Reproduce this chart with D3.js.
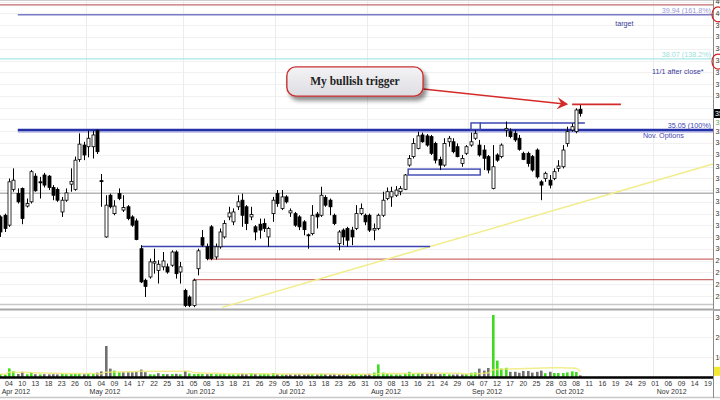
<!DOCTYPE html>
<html><head><meta charset="utf-8">
<script src="https://cdn.jsdelivr.net/npm/d3@7/dist/d3.min.js"></script>
<style>html,body{margin:0;padding:0;background:#fff;overflow:hidden}svg{display:block}</style>
</head><body><svg id="c" width="720" height="400"></svg>
<script>
// ---- data: sessions from Apr 2 2012 (index 0) ----
const openP = [31.36,31.43,31.01,32.53,32.35,32.57,31.82,32.00,33.09,32.85,33.14,33.09,32.61,32.53,31.57,32.07,32.75,32.53,33.80,34.41,34.34,34.34,35.02,32.90,30.51,32.28,31.50,32.35,31.65,31.79,31.36,31.19,30.01,28.67,28.81,29.40,29.09,29.24,29.24,29.31,29.87,29.02,28.24,27.96,27.60,29.16,30.48,30.09,30.94,29.66,30.09,30.51,31.36,31.15,31.79,32.07,31.79,31.36,30.94,31.05,31.08,30.51,31.50,32.35,31.72,32.21,31.53,31.50,31.36,31.15,30.60,30.65,31.48,31.43,32.19,32.07,31.43,30.23,30.80,30.87,30.80,30.87,31.50,31.43,31.43,30.80,30.87,31.43,32.14,32.21,32.28,32.43,32.53,33.56,33.92,34.27,34.84,34.80,34.77,34.48,33.80,33.56,34.55,34.55,34.34,33.63,34.06,34.41,34.70,34.41,34.20,33.92,32.57,33.99,33.92,35.05,34.98,34.91,34.70,34.06,34.06,33.92,34.20,32.85,32.99,32.92,32.99,33.42,33.49,34.48,35.05,34.98,35.93];
const highP = [31.43,31.50,32.99,33.42,32.57,32.61,32.14,33.35,33.21,33.06,33.23,33.14,32.71,32.61,32.21,32.57,33.42,33.92,34.91,34.55,35.02,35.02,35.08,33.18,32.28,32.35,32.07,32.57,32.28,31.86,31.43,31.29,30.16,28.74,29.59,30.01,29.52,29.87,29.38,29.94,29.94,29.45,28.31,28.03,28.74,30.01,30.80,30.23,31.01,30.23,30.87,31.22,31.79,31.72,32.28,32.35,31.86,31.79,31.01,31.29,31.29,30.94,32.21,32.50,32.50,32.28,31.72,31.57,31.43,31.22,30.65,31.86,31.57,32.64,32.28,32.14,31.50,30.80,30.87,30.94,30.94,31.86,31.93,31.50,31.50,31.08,31.50,32.43,32.61,32.64,32.67,32.67,33.18,33.99,34.70,34.98,34.94,34.88,34.84,34.55,33.92,34.70,34.80,34.70,34.48,33.99,34.41,34.94,35.05,34.63,34.41,33.99,34.41,34.06,34.48,35.41,35.12,35.05,34.84,34.13,34.13,33.99,34.27,32.92,33.28,33.14,33.42,33.77,34.41,35.19,35.33,35.97,36.11];
const lowP = [30.51,30.72,30.94,32.43,31.93,31.05,31.76,31.93,32.43,32.14,32.61,32.50,32.07,32.00,31.36,32.00,32.43,32.47,33.70,33.77,33.89,33.84,34.03,31.79,30.48,31.72,31.43,32.07,31.57,31.22,30.94,30.37,28.55,27.96,28.74,28.95,28.53,29.09,28.95,29.24,28.74,28.53,27.53,27.53,27.53,28.88,30.09,29.52,29.52,29.55,30.01,30.44,31.22,31.01,31.65,30.94,30.80,31.22,30.37,30.44,30.72,30.09,31.15,31.79,31.65,31.93,31.36,30.94,30.80,30.58,30.01,30.58,30.87,31.36,31.79,31.43,31.01,29.94,30.16,30.09,30.16,30.80,31.43,31.01,30.72,30.37,30.80,31.36,32.07,31.79,32.21,32.28,32.50,33.49,33.84,34.23,34.51,34.34,33.99,33.63,33.35,33.49,34.34,34.06,33.89,33.49,33.99,34.34,34.63,33.92,33.35,33.21,32.53,33.70,33.85,34.77,34.70,34.55,34.17,33.77,33.49,33.28,32.99,32.07,32.85,32.57,32.92,33.28,33.42,34.34,34.98,34.91,35.62];
const closeP = [30.72,30.87,32.85,32.92,32.00,31.29,31.93,33.28,32.47,32.81,32.71,32.61,32.28,32.07,32.07,32.38,32.87,33.77,34.45,33.99,34.70,34.84,34.13,32.86,31.86,31.79,31.82,32.14,31.76,31.29,31.01,30.40,28.60,28.41,29.45,29.46,29.35,29.49,29.02,29.87,28.95,29.24,27.60,27.60,28.67,29.92,30.16,29.59,29.59,30.09,30.72,31.08,31.53,31.57,32.00,31.43,31.08,31.46,30.72,30.80,30.87,30.87,32.07,31.93,32.21,32.00,31.62,31.01,30.94,30.82,30.57,31.43,31.36,32.28,31.86,31.79,31.08,30.72,30.51,30.37,30.51,31.50,31.72,31.15,30.80,30.87,31.43,32.07,32.43,32.43,32.50,32.57,33.14,33.84,34.48,34.80,34.55,34.41,34.06,33.77,33.56,34.48,34.70,34.13,33.92,33.84,34.34,34.55,34.91,33.99,33.85,33.35,33.49,33.77,34.41,35.12,34.77,34.63,34.23,33.80,33.63,33.35,33.06,32.71,33.21,32.71,33.28,33.52,34.20,34.98,35.19,35.90,35.75];
const volume = [1.5,1.2,4.3,2.9,1.5,2.6,1.4,2.2,1.4,1.3,1.4,1.3,1.4,1.3,1.5,1.4,1.5,1.6,1.5,1.4,1.6,1.5,2.2,2.8,15.5,4.2,3.2,2.4,2.4,2.4,2.4,2.6,3.7,2.4,1.4,1.3,1.9,1.5,1.4,1.5,1.6,1.4,3.0,1.8,1.5,1.6,1.5,1.4,1.5,1.4,1.4,1.5,1.4,1.3,1.4,1.6,1.5,2.0,1.5,1.4,1.5,1.4,2.0,1.4,1.3,1.2,1.3,1.3,1.4,1.3,1.4,1.5,1.3,1.6,1.4,1.3,1.4,1.5,1.3,1.3,1.4,1.5,1.3,1.4,1.6,2.2,6.3,2.2,1.5,1.3,1.3,1.2,1.6,2.6,1.6,2.0,1.7,1.6,1.6,1.4,1.4,1.6,1.3,1.2,1.3,1.3,1.5,2.1,2.3,4.2,3.2,4.5,31,8.2,4.2,4.6,2.6,2.6,2.1,3.0,3.0,2.2,2.6,3.2,1.9,2.6,2.0,2.0,2.0,2.3,2.8,2.5,0.8];

// axis labels: a day label every 3rd session, first one on session 2 (Apr 04)
const dayLabels = ["04","10","13","18","23","26","01","04","09","14","17","22","25","31","05","08","13","18","21","26","29","05","10","13","18","23","26","31","03","08","13","16","21","24","29","04","07","12","17","20","25","28","03","08","11","16","19","24","29","01","06","09","14","19"];
const monthLabels = ["Apr 2012","May 2012","Jun 2012","Jul 2012","Aug 2012","Sep 2012","Oct 2012","Nov 2012"];
const monthStartSession = [0,20,42,63,84,107,126,149];
const priceTicks = [28,28.5,29,29.5,30,30.5,31,31.5,32,32.5,33,33.5,34,34.5,35,35.5,36,36.5,37,37.5,38,38.5,39,39.5,40,40.5];
const volTicks = [10,20,30];

// annotation levels (price values)
const fibLevels = [39.94, 38.07, 35.05];
const fibTexts = ["39.94 (161.8%)","38.07 (138.2%)","35.05 (100%)"];
const redLevels = [29.57, 28.70];
const redStart = [47.0, 43.9];
const topRedLevel = 40.36;
const grayLevels = [32.37, 27.64];
const triggerLevel = 36.14, triggerFrom = 130.1, triggerTo = 141.2;
const supportLevel = 30.10, supportFrom = 32.1, supportTo = 97.8;
const trend = [[50.5, 27.52],[162.15, 33.61]];
const upperBox = {x0:107.1, x1:109.2, x2:133.0, p0:35.05, p1:35.35};
const lowerBox = {x0:92.8, x1:109.2, p0:33.14, p1:33.39};

const W = 720, H = 400, plotR = 713;
const svg = d3.select('#c');
const x = d3.scaleLinear().domain([-0.0455, 162.15]).range([0, plotR]);
const y = d3.scaleLinear().domain([27.45, 40.57]).range([309, 0]);
const yv = d3.scaleLinear().domain([0, 33]).range([377, 311]);
const FONT = '"Liberation Sans", Arial, sans-serif';

const n = closeP.length;
const idx = d3.range(n);

// price grid
svg.append('g').selectAll('line').data(priceTicks).join('line')
  .attr('x1',0).attr('x2',plotR).attr('y1',d=>Math.round(y(d))+0.5).attr('y2',d=>Math.round(y(d))+0.5)
  .attr('stroke','#f1f1f1');
// volume grid
svg.append('g').selectAll('line').data(volTicks).join('line')
  .attr('x1',0).attr('x2',plotR).attr('y1',d=>Math.round(yv(d))+0.5).attr('y2',d=>Math.round(yv(d))+0.5)
  .attr('stroke','#f1f1f1');
// month verticals
svg.append('g').selectAll('line').data(monthStartSession.slice(1)).join('line')
  .attr('x1',d=>Math.round(x(d-0.5))+0.5).attr('x2',d=>Math.round(x(d-0.5))+0.5)
  .attr('y1',0).attr('y2',378).attr('stroke','#ececec');

// frame lines
svg.append('line').attr('x1',0).attr('x2',W).attr('y1',0.5).attr('y2',0.5).attr('stroke','#cfcfcf');
svg.append('line').attr('x1',0).attr('x2',plotR).attr('y1',y(topRedLevel)).attr('y2',y(topRedLevel)).attr('stroke','#c46a6a').attr('stroke-width',1.2);
grayLevels.forEach((g,i)=>{
  svg.append('line').attr('x1',0).attr('x2',plotR).attr('y1',y(g)).attr('y2',y(g)).attr('stroke', i===0?'#b5b5b5':'#c8c8c8').attr('stroke-width',1.5);
});
svg.append('line').attr('x1',0).attr('x2',plotR).attr('y1',309.5).attr('y2',309.5).attr('stroke','#a8a8a8').attr('stroke-width',2);
svg.append('line').attr('x1',0).attr('x2',W).attr('y1',397.5).attr('y2',397.5).attr('stroke','#c8c8c8').attr('stroke-width',1.5);

// red lower lines
redLevels.forEach((r,i)=>{
  svg.append('line').attr('x1',x(redStart[i])).attr('x2',plotR).attr('y1',y(r)).attr('y2',y(r)).attr('stroke','#cc6b6b').attr('stroke-width',1.2);
});
// fib lines
svg.append('line').attr('x1',x(4)).attr('x2',plotR).attr('y1',y(fibLevels[0])).attr('y2',y(fibLevels[0])).attr('stroke','#7b7bc8').attr('stroke-width',1.5);
svg.append('line').attr('x1',0).attr('x2',plotR).attr('y1',y(fibLevels[1])).attr('y2',y(fibLevels[1])).attr('stroke','#a8e8e8').attr('stroke-width',1.2);
svg.append('line').attr('x1',x(4)).attr('x2',plotR).attr('y1',y(fibLevels[2])+2).attr('y2',y(fibLevels[2])+2).attr('stroke','#c6c8ee').attr('stroke-width',2);
svg.append('line').attr('x1',x(4)).attr('x2',plotR).attr('y1',y(fibLevels[2])).attr('y2',y(fibLevels[2])).attr('stroke','#2430a6').attr('stroke-width',2.6);

// trend line (yellow)
svg.append('line').attr('x1',x(trend[0][0])).attr('y1',y(trend[0][1])).attr('x2',x(trend[1][0])).attr('y2',y(trend[1][1]))
  .attr('stroke','#f2ec8a').attr('stroke-width',1.5);

// support and boxes (blue)
svg.append('line').attr('x1',x(supportFrom)).attr('x2',x(supportTo)).attr('y1',y(supportLevel)).attr('y2',y(supportLevel)).attr('stroke','#3a44b0').attr('stroke-width',1.5);
svg.append('rect').attr('x',x(lowerBox.x0)).attr('y',y(lowerBox.p1)).attr('width',x(lowerBox.x1)-x(lowerBox.x0)).attr('height',y(lowerBox.p0)-y(lowerBox.p1))
  .attr('fill','none').attr('stroke','#3a44b0').attr('stroke-width',1.4);
svg.append('rect').attr('x',x(upperBox.x0)).attr('y',y(upperBox.p1)).attr('width',x(upperBox.x1)-x(upperBox.x0)).attr('height',y(upperBox.p0)-y(upperBox.p1))
  .attr('fill','none').attr('stroke','#3a44b0').attr('stroke-width',1.4);
svg.append('line').attr('x1',x(upperBox.x1)).attr('x2',x(upperBox.x2)).attr('y1',y(upperBox.p1)).attr('y2',y(upperBox.p1))
  .attr('stroke','#3a44b0').attr('stroke-width',1.4);

// candles
const bw = 3;
const cg = svg.append('g');
cg.selectAll('line.w').data(idx).join('line').attr('class','w')
  .attr('x1',i=>Math.round(x(i))+0.5).attr('x2',i=>Math.round(x(i))+0.5)
  .attr('y1',i=>y(highP[i])).attr('y2',i=>y(lowP[i])).attr('stroke','#000').attr('stroke-width',1);
cg.selectAll('rect.b').data(idx).join('rect').attr('class','b')
  .attr('x',i=>Math.round(x(i))-1).attr('width',bw)
  .attr('y',i=>y(Math.max(openP[i],closeP[i])))
  .attr('height',i=>Math.max(1,Math.abs(y(openP[i])-y(closeP[i]))))
  .attr('fill',i=>closeP[i]>=openP[i]?'#fff':'#000')
  .attr('stroke','#000').attr('stroke-width',0.8);

// trigger line
svg.append('line').attr('x1',x(triggerFrom)).attr('x2',x(triggerTo)).attr('y1',y(triggerLevel)).attr('y2',y(triggerLevel)).attr('stroke','#d42a2a').attr('stroke-width',1.8);

// volume bars
svg.append('g').selectAll('rect').data(idx).join('rect')
  .attr('x',i=>Math.round(x(i))-1).attr('width',2.6)
  .attr('y',i=>yv(volume[i])).attr('height',i=>yv(0)-yv(volume[i]))
  .attr('fill',i=>(i===0||closeP[i]>=closeP[i-1])?'#3ddc1f':'#707070');
// volume average
const vma = idx.map(i=>d3.mean(volume.slice(Math.max(0,i-19),i+1)));
svg.append('path').datum(idx).attr('fill','none').attr('stroke','#eeea70').attr('stroke-width',1.5).attr('opacity',0.8)
  .attr('d',d3.line().curve(d3.curveMonotoneX).x(i=>x(i)).y(i=>yv(vma[i])));
// baseline
svg.append('line').attr('x1',0).attr('x2',plotR+1).attr('y1',377.5).attr('y2',377.5).attr('stroke','#000').attr('stroke-width',2.6);

// right axis
const last = closeP[n-1];
const tagYs = [y(last), y(fibLevels[2])-7.5];
svg.append('line').attr('x1',plotR+0.5).attr('x2',plotR+0.5).attr('y1',0).attr('y2',398).attr('stroke','#8a8a8a');
svg.append('line').attr('x1',plotR).attr('x2',W).attr('y1',310).attr('y2',310).attr('stroke','#a8a8a8').attr('stroke-width',2);
svg.append('g').selectAll('text').data(priceTicks.filter(d=>tagYs.every(t=>Math.abs(y(d)-t)>6))).join('text')
  .attr('x',plotR+2.5).attr('y',d=>y(d)+2.5).text(d=>d.toFixed(1))
  .attr('font-family',FONT).attr('font-size',7).attr('fill','#333');
svg.append('g').selectAll('text').data(volTicks).join('text')
  .attr('x',plotR+2.5).attr('y',d=>yv(d)+2.5).text(d=>d+'M')
  .attr('font-family',FONT).attr('font-size',7).attr('fill','#333');
// last price tag
svg.append('rect').attr('x',plotR+1).attr('y',y(last)-4.5).attr('width',8).attr('height',9).attr('fill','#000');
svg.append('text').attr('x',plotR+2).attr('y',y(last)+2.5).text(last.toFixed(1)).attr('font-family',FONT).attr('font-size',7).attr('fill','#fff');
svg.append('text').attr('x',plotR+2.5).attr('y',tagYs[1]+2.5).text('35.1').attr('font-family',FONT).attr('font-size',7).attr('fill','#62a862');
// volume MA tag
svg.append('rect').attr('x',plotR+1).attr('y',yv(vma[n-1])-4.5).attr('width',8).attr('height',9).attr('fill','#f0ea30');
// red circles on axis
[40, 38].forEach(v=>{
  svg.append('ellipse').attr('cx',plotR+5).attr('cy',y(v)+1).attr('rx',6).attr('ry',7.5).attr('fill','none').attr('stroke','#d02020').attr('stroke-width',1.2);
});

// x axis labels
svg.append('g').selectAll('text').data(dayLabels).join('text')
  .attr('x',(d,k)=>x(2+3*k)).attr('y',386).attr('text-anchor','middle').text(d=>d)
  .attr('font-family',FONT).attr('font-size',7).attr('fill','#333');
svg.append('g').selectAll('text').data(monthLabels).join('text')
  .attr('x',(d,k)=>x(monthStartSession[k])+1.5).attr('y',394).text(d=>d)
  .attr('font-family',FONT).attr('font-size',7).attr('fill','#333');

// fib texts
const fibColors = ['#9a9ad6','#9adede','#3a44b0'];
fibLevels.forEach((f,i)=>{
  svg.append('text').attr('x',711).attr('y',y(f)-2).attr('text-anchor','end').text(fibTexts[i])
    .attr('font-family',FONT).attr('font-size',7.2).attr('fill',fibColors[i]);
});
// notes
const notes = [
  {t:'target', i:139.9, p:39.47, c:'#3a3a9a'},
  {t:'11/1 after close*', i:148.3, p:37.43, c:'#3a3a9a'},
  {t:'Nov. Options', i:146.2, p:34.71, c:'#4a4ab4'}
];
notes.forEach(o=>{
  svg.append('text').attr('x',x(o.i)).attr('y',y(o.p)).text(o.t).attr('font-family',FONT).attr('font-size',7.2)
    .attr('fill',o.c);
});

// callout
const cb = {i0:65.2, i1:96.2, pTop:37.73, pBot:36.49};
const defs = svg.append('defs');
const f = defs.append('filter').attr('id','sh').attr('x','-20%').attr('y','-30%').attr('width','140%').attr('height','170%');
f.append('feGaussianBlur').attr('in','SourceAlpha').attr('stdDeviation',2);
f.append('feOffset').attr('dx',3).attr('dy',4).attr('result','o');
f.append('feComponentTransfer').append('feFuncA').attr('type','linear').attr('slope',0.45);
const fm = f.append('feMerge'); fm.append('feMergeNode'); fm.append('feMergeNode').attr('in','SourceGraphic');
const gr = defs.append('linearGradient').attr('id','gb').attr('x1',0).attr('y1',0).attr('x2',0).attr('y2',1);
gr.append('stop').attr('offset',0).attr('stop-color','#f4f4f6');
gr.append('stop').attr('offset',1).attr('stop-color','#dcdce2');
// arrow line
const ax0 = x(cb.i1), ay0 = y(36.79), ax1 = x(129.2), ay1 = y(triggerLevel);
svg.append('line').attr('x1',ax0).attr('y1',ay0).attr('x2',ax1-6).attr('y2',ay1-0.6).attr('stroke','#d42a2a').attr('stroke-width',1.5);
const ang = Math.atan2(ay1-ay0, ax1-ax0);
const ah = [[0,0],[-11,-6],[-7,0],[-11,6]].map(([px,py])=>[ax1+px*Math.cos(ang)-py*Math.sin(ang), ay1+px*Math.sin(ang)+py*Math.cos(ang)]);
svg.append('path').attr('d','M'+ah.map(p=>p.join(',')).join('L')+'Z').attr('fill','#d42a2a');
svg.append('rect').attr('x',x(cb.i0)).attr('y',y(cb.pTop)).attr('width',x(cb.i1)-x(cb.i0)).attr('height',y(cb.pBot)-y(cb.pTop))
  .attr('rx',9).attr('fill','url(#gb)').attr('stroke','#c83030').attr('stroke-width',1.4).attr('filter','url(#sh)');
svg.append('text').attr('x',(x(cb.i0)+x(cb.i1))/2).attr('y',(y(cb.pTop)+y(cb.pBot))/2+3.5).attr('text-anchor','middle')
  .text('My bullish trigger').attr('font-family','"Liberation Serif","DejaVu Serif",serif').attr('font-weight','bold').attr('font-size',11.5).attr('fill','#222');
</script></body></html>
